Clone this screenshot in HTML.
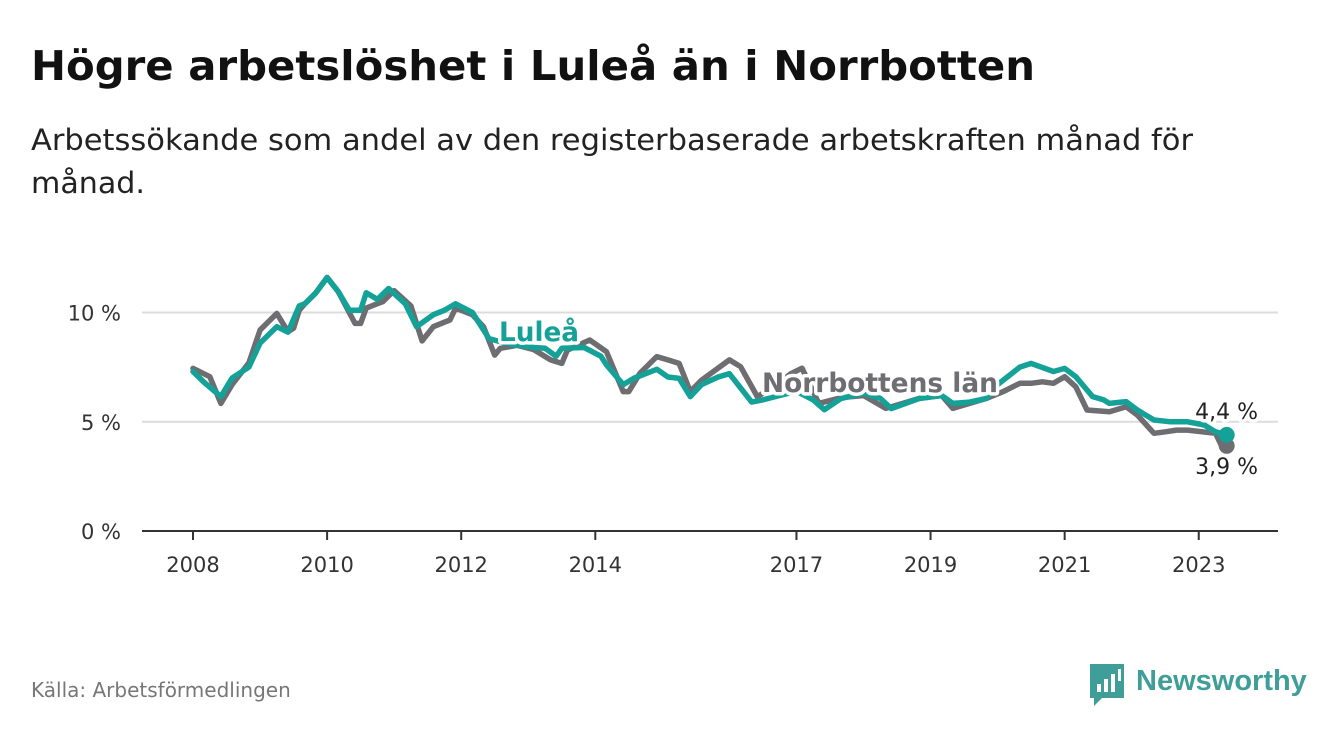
<!DOCTYPE html>
<html><head><meta charset="utf-8">
<style>
html,body{margin:0;padding:0;background:#fff;}
body{width:1340px;height:734px;overflow:hidden;font-family:"DejaVu Sans","Liberation Sans",sans-serif;}
</style></head>
<body>
<svg id="chart" width="1340" height="734" xmlns="http://www.w3.org/2000/svg" font-family="DejaVu Sans, Liberation Sans, sans-serif">
  <text x="31" y="80" font-size="41" font-weight="bold" fill="#111" textLength="1004" lengthAdjust="spacingAndGlyphs">Högre arbetslöshet i Luleå än i Norrbotten</text>
  <text x="31" y="150" font-size="29" fill="#222" textLength="1162" lengthAdjust="spacingAndGlyphs">Arbetssökande som andel av den registerbaserade arbetskraften månad för</text>
  <text x="31" y="193" font-size="29" fill="#222" textLength="114" lengthAdjust="spacingAndGlyphs">månad.</text>
  <g id="grid"></g>
  <g id="yaxis"></g>
  <g id="xaxis"></g>
  <g id="series"></g>
  <g id="labels"></g>
  <text x="31" y="697" font-size="20" fill="#777">Källa: Arbetsförmedlingen</text>
  <g>
    <path d="M1090 664 h34 v34 h-22 l-8 8 v-8 h-4 z" fill="#3f9e97"/>
    <rect x="1097" y="684" width="4" height="8" fill="#fff"/>
    <rect x="1104" y="679" width="4" height="13" fill="#fff"/>
    <rect x="1111" y="674" width="4" height="18" fill="#fff"/>
    <rect x="1118" y="669" width="3" height="12" fill="#fff"/>
    <text x="1136" y="690" font-size="29" font-weight="bold" fill="#3f9e97" font-family="Liberation Sans, sans-serif">Newsworthy</text>
  </g>
</svg>
<script>
const luleaDates = ["2008-01","2008-03","2008-06","2008-08","2008-11","2009-01","2009-04","2009-06","2009-08","2009-09","2009-11","2010-01","2010-03","2010-05","2010-07","2010-08","2010-10","2010-12","2011-03","2011-05","2011-08","2011-10","2011-12","2012-03","2012-06","2012-09","2012-11","2013-02","2013-04","2013-06","2013-07","2013-11","2014-02","2014-03","2014-06","2014-08","2014-12","2015-02","2015-04","2015-06","2015-08","2015-11","2016-01","2016-05","2016-07","2016-10","2017-01","2017-04","2017-06","2017-09","2018-01","2018-04","2018-06","2018-11","2019-03","2019-05","2019-08","2019-11","2020-01","2020-05","2020-07","2020-11","2021-01","2021-03","2021-06","2021-08","2021-09","2021-12","2022-02","2022-05","2022-08","2022-11","2023-02","2023-04","2023-06"];
const luleaValues = [7.3,6.8,6.15,7.0,7.5,8.6,9.35,9.1,10.3,10.4,10.9,11.6,10.95,10.1,10.1,10.9,10.6,11.1,10.4,9.35,9.9,10.1,10.4,10.0,8.8,8.6,8.5,8.4,8.36,8.0,8.36,8.4,8.0,7.6,6.7,7.0,7.4,7.05,6.99,6.15,6.7,7.05,7.2,5.9,6.0,6.2,6.4,6.0,5.55,6.07,6.3,6.07,5.6,6.07,6.2,5.84,5.9,6.07,6.7,7.5,7.67,7.3,7.44,7.06,6.15,6.0,5.84,5.92,5.54,5.08,5.0,5.0,4.85,4.54,4.4];
const norrDates = ["2008-01","2008-04","2008-06","2008-08","2008-11","2009-01","2009-04","2009-06","2009-07","2009-08","2009-09","2009-11","2010-01","2010-03","2010-06","2010-07","2010-08","2010-11","2011-01","2011-04","2011-06","2011-08","2011-11","2011-12","2012-03","2012-05","2012-07","2012-08","2012-11","2013-02","2013-05","2013-07","2013-08","2013-12","2014-03","2014-06","2014-07","2014-09","2014-12","2015-02","2015-04","2015-06","2015-08","2016-01","2016-03","2016-06","2016-09","2016-12","2017-02","2017-05","2017-09","2018-01","2018-05","2018-11","2019-03","2019-05","2019-11","2020-02","2020-05","2020-07","2020-09","2020-11","2021-01","2021-03","2021-05","2021-09","2021-12","2022-02","2022-05","2022-07","2022-09","2022-11","2023-04","2023-05","2023-06"];
const norrValues = [7.44,7.06,5.84,6.7,7.7,9.2,9.96,9.12,9.28,10.1,10.4,10.9,11.6,10.95,9.5,9.5,10.2,10.5,11.0,10.3,8.7,9.35,9.66,10.2,9.9,9.35,8.05,8.36,8.5,8.3,7.83,7.67,8.28,8.74,8.2,6.38,6.38,7.22,7.98,7.83,7.67,6.38,6.9,7.83,7.52,6.15,6.6,7.2,7.45,5.84,6.1,6.2,5.61,6.07,6.2,5.61,6.07,6.38,6.76,6.76,6.83,6.76,7.06,6.6,5.54,5.46,5.69,5.31,4.47,4.54,4.62,4.62,4.47,3.94,3.9];
const yTicks = [0,5,10];
const yTickLabels = ["0 %","5 %","10 %"];
const xTicks = [2008,2010,2012,2014,2017,2019,2021,2023];

const NS="http://www.w3.org/2000/svg";
const X0=142, X1=1278;
function toYear(d){const p=d.split("-");return +p[0]+(+p[1]-1)/12;}
function xScale(yr){return 193+(yr-2008)*67.05;}
function yScale(v){return 531-v*21.85;}
function mk(tag,attrs,parent){const e=document.createElementNS(NS,tag);for(const k in attrs)e.setAttribute(k,attrs[k]);parent.appendChild(e);return e;}

const grid=document.getElementById('grid'), yax=document.getElementById('yaxis'), xax=document.getElementById('xaxis');
yTicks.forEach((t,i)=>{
  const l=mk('line',{x1:X0,x2:X1,y1:yScale(t),y2:yScale(t),stroke:t===0?'#333':'#dcdcdc','stroke-width':2},grid);
  
  
  const tx=mk('text',{x:121,y:yScale(t)+8,'font-size':21,fill:'#333','text-anchor':'end'},yax);
  
  
  tx.textContent=yTickLabels[i];
});
xTicks.forEach(t=>{
  const x=xScale(t);
  const tk=mk('line',{x1:x,x2:x,y1:531,y2:540,stroke:'#333','stroke-width':2},xax);
  
  
  const tx=mk('text',{x:x,y:572,'font-size':21,fill:'#333','text-anchor':'middle'},xax);
  
  
  tx.textContent=t;
});
const ser=document.getElementById('series');
function drawLine(dates,vals,color,name){
  const d=dates.map((dt,i)=>(i?'L':'M')+xScale(toYear(dt)).toFixed(1)+' '+yScale(vals[i]).toFixed(1)).join(' ');
  const p=mk('path',{d:d,fill:'none',stroke:color,'stroke-width':5.5,'stroke-linejoin':'round','stroke-linecap':'round'},ser);
  
  
  const n=dates.length-1;
  const c=mk('circle',{cx:xScale(toYear(dates[n])),cy:yScale(vals[n]),r:8,fill:color},ser);
  
  
}
drawLine(norrDates,norrValues,'#6e6d72','norrbotten-line');
drawLine(luleaDates,luleaValues,'#14a197','lulea-line');
const lab=document.getElementById('labels');
function label(x,y,txt,color,size,weight,name,anchor,len){
  const t=mk('text',{x:x,y:y,'font-size':size,'font-weight':weight,fill:color,stroke:'#fff','stroke-width':7,'paint-order':'stroke','stroke-linejoin':'round','text-anchor':anchor||'start'},lab);
  if(len){t.setAttribute('textLength',len);t.setAttribute('lengthAdjust','spacingAndGlyphs');}
  
  
  t.textContent=txt;
}
label(499,341,'Luleå','#14a197',27,'bold','lulea-label',null,80);
label(762,392,'Norrbottens län','#6e6d72',27,'bold','norrbotten-label',null,236);
label(1258,419,(luleaValues[luleaValues.length-1]+'').replace('.',',')+' %','#222',22,'normal','lulea-end-value','end');
label(1258,474,(norrValues[norrValues.length-1]+'').replace('.',',')+' %','#222',22,'normal','norrbotten-end-value','end');
</script>
</body></html>
